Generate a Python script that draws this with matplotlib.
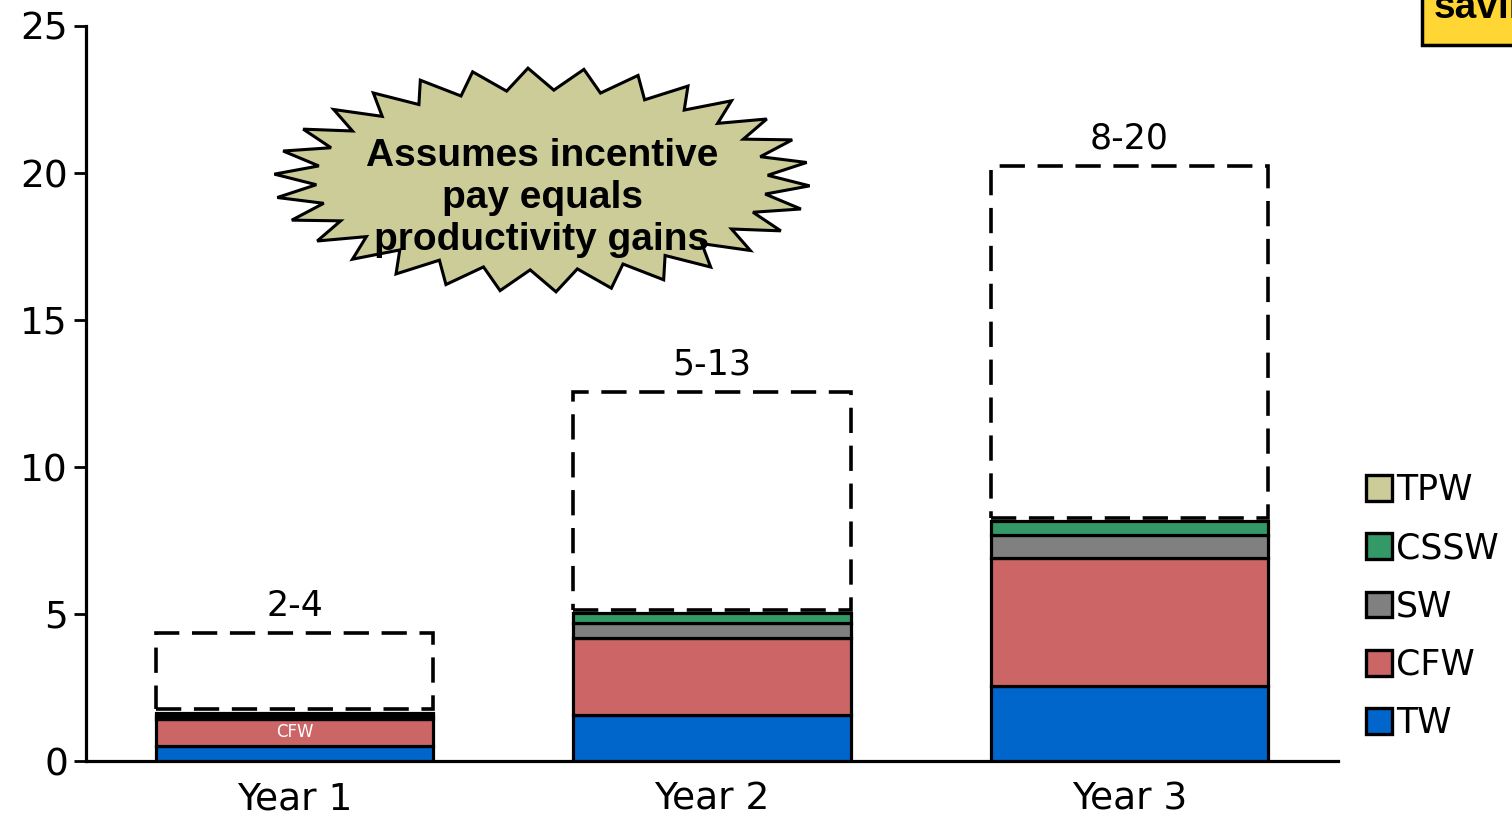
import numpy as np
import matplotlib
matplotlib.use("Agg")
import matplotlib.pyplot as plt
from matplotlib.patches import Polygon, Rectangle, Patch

# ---- data ----
years = ["Year 1", "Year 2", "Year 3"]
tw = [0.52, 1.55, 2.55]
cfw = [0.9, 2.65, 4.35]
sw = [0.12, 0.5, 0.8]
cssw = [0.1, 0.32, 0.45]
tpw_low = [1.76, 5.14, 8.27]
tpw_high = [4.35, 12.55, 20.25]
range_labels = ["2-4", "5-13", "8-20"]
yticks = [0, 5, 10, 15, 20, 25]

colors = {"TW": "#0066CC", "CFW": "#CC6666", "SW": "#808080",
          "CSSW": "#339966", "TPW": "#CCCC99"}

W, H = 1512, 816
fig = plt.figure(figsize=(W / 100, H / 100), dpi=100)
ax = fig.add_axes([86 / W, 1 - 761 / H, (1338 - 86) / W, (761 - 26) / H])

x = np.arange(len(years))
bw = 0.665
bottom = np.zeros(len(years))
for name, vals in [("TW", tw), ("CFW", cfw), ("SW", sw), ("CSSW", cssw)]:
    ax.bar(x, vals, bw, bottom=bottom, color=colors[name],
           edgecolor="black", linewidth=2.3, zorder=3)
    bottom = bottom + np.array(vals)

# dashed TPW range boxes
ax.bar(x, np.array(tpw_high) - np.array(tpw_low), bw, bottom=tpw_low,
       facecolor="none", edgecolor="black", linewidth=2.6,
       linestyle=(0, (7, 3.5)), zorder=4)

for xi, top, lab in zip(x, tpw_high, range_labels):
    ax.text(xi, top + 0.35, lab, ha="center", va="bottom", fontsize=25,
            color="black")

# CFW label inside year 1
ax.text(x[0], tw[0] + cfw[0] / 2, "CFW", ha="center", va="center",
        fontsize=12, color="white", zorder=5)

ax.set_xlim(-0.5, 2.5)
ax.set_ylim(0, 25)
ax.set_yticks(yticks)
ax.set_xticks(x)
ax.set_xticklabels(years)
ax.tick_params(axis="y", labelsize=27, length=9, width=2, direction="out", pad=4)
ax.tick_params(axis="x", labelsize=27, length=0, pad=15)
for s in ["top", "right"]:
    ax.spines[s].set_visible(False)
for s in ["left", "bottom"]:
    ax.spines[s].set_linewidth(2.3)

# starburst annotation
cx, cy = 542, 180
n = 30
k = np.arange(2 * n)
ang = np.linspace(0, 2 * np.pi, 2 * n, endpoint=False) + np.pi / (2 * n)
rx = np.where(k % 2 == 0, 268, 226)
ry = np.where(k % 2 == 0, 112, 90)
px = cx + rx * np.cos(ang)
py = cy + ry * np.sin(ang)
pts = np.column_stack([px / W, 1 - py / H])
fig.patches.append(Polygon(pts, closed=True, facecolor=colors["TPW"],
                           edgecolor="black", linewidth=2.2,
                           transform=fig.transFigure, zorder=5))
fig.text(cx / W, 1 - 198 / H, "Assumes incentive\npay equals\nproductivity gains",
         ha="center", va="center", fontsize=28, fontweight="bold",
         family="Liberation Sans", linespacing=1.22, zorder=6)

# cut-off yellow box top right
fig.patches.append(Rectangle((1422 / W, 1 - 45 / H), 200 / W, 60 / H,
                             facecolor="#FFD633", edgecolor="black",
                             linewidth=2.5, transform=fig.transFigure, zorder=5))
fig.text(1434 / W, 1 - 18 / H, "savings", ha="left", va="baseline",
         fontsize=28, fontweight="bold", family="Liberation Sans", zorder=6)

# legend
handles = [Patch(facecolor=colors[k], edgecolor="black", linewidth=2.4, label=k)
           for k in ["TPW", "CSSW", "SW", "CFW", "TW"]]
fig.legend(handles=handles, loc="upper left",
           bbox_to_anchor=(1366 / W, 1 - 473 / H), frameon=False,
           fontsize=25, handlelength=0.75, handleheight=0.75,
           handletextpad=0.12, labelspacing=0.7, borderpad=0,
           borderaxespad=0)

fig.savefig("out.png", dpi=100)
